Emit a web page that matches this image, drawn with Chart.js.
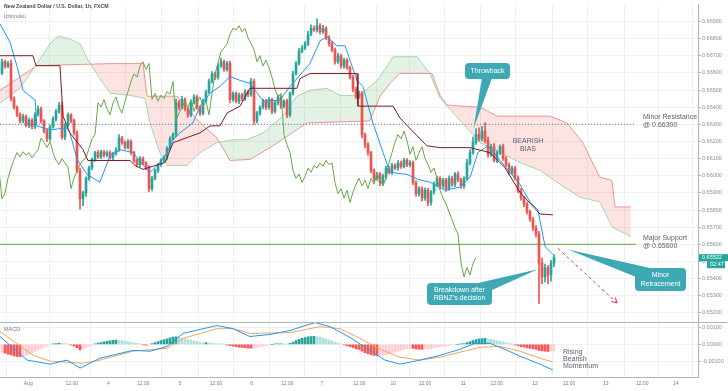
<!DOCTYPE html>
<html>
<head>
<meta charset="utf-8">
<script src="https://cdn.jsdelivr.net/npm/chart.js@4.4.1/dist/chart.umd.min.js"></script>
<style>
  html, body { margin: 0; padding: 0; background: #fff; }
  #wrap { width: 728px; height: 391px; }
</style>
</head>
<body>
<div id="wrap"><canvas id="chart" width="728" height="391"></canvas></div>
<script>
// hourly NZD/USD, prices in 1e-5 units (66665 = 0.66665)
var closes = [
  66665,66640,66655,66450,66400,66355,66320,66345,66295,66325,
  66285,66355,66390,66320,66260,66215,66285,66330,66375,66410,
  66225,66295,66355,66320,66250,66030,65865,65900,65985,66045,
  66095,66135,66110,66140,66120,66135,66105,66130,66150,66220,
  66195,66165,66200,66135,66090,66065,66100,66075,66050,65925,
  65985,66030,66065,66090,66105,66160,66215,66240,66425,66400,
  66445,66390,66355,66425,66460,66400,66365,66435,66490,66550,
  66595,66575,66640,66665,66620,66655,66445,66480,66435,66470,
  66450,66490,66475,66550,66320,66365,66400,66435,66400,66445,
  66375,66425,66460,66405,66435,66355,66480,66595,66655,66725,
  66745,66770,66825,66860,66850,66875,66840,66860,66805,66770,
  66735,66665,66700,66640,66675,66630,66575,66505,66460,66480,
  66240,66180,66135,66030,65985,66010,65960,65995,66045,66020,
  66060,66045,66075,66055,66090,66065,66075,65960,65895,65925,
  65870,65915,65845,65905,65950,65985,65940,65975,65925,65985,
  65950,66010,65975,65940,65985,66075,66135,66195,66240,66215,
  66260,66205,66125,66170,66090,66135,66170,66100,66065,66020,
  66045,65985,65915,65870,65835,65790,65745,65695,65660,65490,
  65410,65465,65420,65490,65522
];
var firstOpen = 66600;
// wick length above / below the body, same units
var wickHi = [
  15,10,12,20,10,8,12,14,10,12, 8,14,18,10,8,12,10,14,12,18,
  20,10,12,8,10,12,14,10,8,12, 10,8,12,10,8,12,10,8,14,20,
  10,8,12,10,8,10,12,10,8,10, 12,10,8,10,12,10,14,10,20,15,
  18,10,8,12,14,10,8,12,10,14, 12,10,14,20,10,12,14,10,8,12,
  10,12,8,18,14,10,8,12,10,12, 8,10,12,10,8,12,10,14,12,16,
  14,12,18,20,14,40,12,18,10,12, 14,10,16,10,12,8,10,12,10,14,
  12,10,14,8,10,12,10,14,12,10, 12,10,14,10,12,10,14,12,10,12,
  10,14,12,10,14,12,10,12,10,14, 12,10,14,12,10,20,18,30,35,40,
  28,50,20,14,18,12,10,14,12,10, 12,10,14,12,10,12,10,12,14,16,
  30,20,12,16,18
];
var wickLo = [
  10,12,10,14,12,10,14,12,10,14, 12,10,8,14,12,16,10,8,12,10,
  12,14,10,12,14,12,60,40,20,12, 10,12,8,10,12,10,8,12,10,8,
  12,10,8,14,12,10,12,10,14,20, 14,10,12,10,8,12,10,8,12,14,
  10,12,14,10,8,12,14,10,8,12, 10,14,12,8,12,10,20,12,10,14,
  12,10,14,12,20,14,12,10,14,12, 14,10,12,14,10,16,12,10,8,10,
  8,10,12,10,8,12,14,10,12,14, 12,14,10,12,14,10,12,14,12,10,
  20,18,16,14,20,12,18,14,12,10, 12,10,14,12,10,12,14,12,16,14,
  18,14,20,16,12,14,18,12,16,10, 12,14,10,12,14,10,12,10,12,14,
  12,14,16,12,10,14,12,10,12,14, 12,10,14,12,16,14,12,16,18,235,
  40,30,50,35,20
];

// ichimoku lines: x in bars, values in 1e-5 units
var tenkanX = [0,3.3,5.7,7.7,11.7,12.3,16.7,22.3,23.3,25.7,29,33.3,36.7,40,44.3,47.7,50,53.3,55.7,57.7,60,64.3,66.7,70,73.3,76.7,80,83.3,87.7,93.3,96.7,103.3,106.7,109,112.3,115,119,121,124.3,127.7,130,135.7,139.3,143.3,148.3,153.3,156.7,159.3,162.7,166.7,170,173.3,176.7,179.3,181.7,184.3];
var tenkanY = [66885,66781,66637,66498,66441,66291,66268,66279,66250,66095,66008,65962,66118,66152,66135,66060,66020,66077,66135,66210,66250,66308,66406,66481,66521,66579,66556,66539,66435,66441,66521,66654,66787,66810,66758,66758,66556,66521,66308,66135,66020,66008,65979,65962,65916,65933,65991,66135,66175,66089,66020,65950,65847,65800,65587,65541];
var kijunX = [0,11,12,20,21,23.3,27.7,29.3,43.3,45,47.7,51.7,55,57.7,66.7,70,73.3,75.7,80,83.3,99,100,103.3,119,119.3,131,133.3,139,142.3,146.7,156.7,163.3,168.3,173.3,180,184.3];
var kijunY = [66700,66700,66642,66642,66348,66250,66152,66089,66089,66060,66037,66060,66077,66193,66250,66291,66291,66366,66406,66510,66510,66567,66596,66596,66406,66406,66337,66233,66175,66164,66164,66135,66048,65904,65777,65772];
var spanAX = [0,6.7,12.3,16.7,19.3,23.3,26.7,29,33.3,36.7,43.3,48.3,50,53.3,55.7,62.3,66.7,72.3,77.7,82.3,87.7,94.3,99,103.3,109,113.3,120,125.7,129,131,139,143.3,146.7,153.3,160,166.7,173.3,180,186.7,193.3,200,204,210.3];
var spanAY = [66423,66510,66654,66769,66815,66798,66769,66683,66567,66481,66469,66452,66308,66135,66060,66060,66135,66193,66210,66210,66250,66348,66464,66498,66510,66469,66469,66556,66637,66694,66694,66596,66452,66325,66193,66135,66077,66031,65950,65875,65847,65702,65645];
var spanBX = [0,12.3,36.7,47.7,49,59,66.7,72.3,76.7,83.3,91,102.3,123.3,124.3,126.7,130,133.3,144,146.7,149,160,165.7,183.3,189,194.3,196.7,200,204,205,210.3];
var spanBY = [66498,66642,66654,66654,66464,66464,66308,66221,66089,66095,66175,66308,66320,66366,66464,66539,66596,66596,66469,66412,66400,66348,66348,66308,66193,66106,65991,65973,65818,65818];

var levelPrices = [0.66300, 0.65600];
var levelEndBar = 212;
var arrowX = [186, 205.7];
var arrowY = [65576, 65258];

// MACD panel, 1e-5 units
var histo = [
  -45,-52,-58,-62,-68,-70,-72,-70,
  -64,-58,-50,-42,-34,-26,-18,-11,-5,
  3,5,7,6,4, 2,-2, -10,-20,-33, -28,-20,-12,
  -4,3,7,11,15,18,21,23,25, 24,22,19,16,12,9,6,3, -2,-5,-4,
  4,10,16,22,28,33,38,42,44, 41,37,33,28,24,20,16,12,9, 11,
  9,7,5,4,2,1, -3,-7,-10,-13,-16,-18,-20,-22,-23,
  -22,-18,-14,-10,-6,-3,0, 2,3,3,2,1,
  6,14,22,30,36,40,44,46,47, 45,42,38,33,27,20, 13,7,2,-3,-8,
  -14,-20,-26,-30,-40,-48,-54,-60,-64,-66,-66,
  -64,-60,-55,-50,-45,-40,-35,-30,-26,-22,
  -24,-27,-28,-29,-28,-28,
  -25,-21,-17,-14,-11,-9,-6,-4,-2,0,2,4,
  10,16,22,28,32,34,35, 32,29,26,22,18,14,10,6,2,
  -3,-8,-13,-17,-21,-24,-27,-30,-35,-38,-40,-41,-40,-38
];
var macdX = [0,9,11,16.7,22.3,26.7,33.3,44.3,50,55.7,61,72.3,77.7,83.3,90,96.7,101.7,105,110,116.7,123.3,128.3,133.3,140,146.7,153.3,158.3,163.3,168.3,173.3,180,184.3];
var macdY = [46,-92,-98,-116,-92,-139,-81,-35,-40,-12,64,110,92,46,58,81,110,127,104,40,-35,-92,-116,-92,-64,-29,6,6,-29,-69,-116,-150];
var signalX = [0,11,16.7,27.7,33.3,44.3,55.7,61,72.3,77.7,83.3,96.7,106.7,113.3,120,126.7,133.3,140,146.7,153.3,160,166.7,173.3,180,184.3];
var signalY = [75,-64,-98,-110,-92,-40,-23,35,92,92,64,69,104,92,35,-29,-75,-92,-75,-46,-17,-12,-40,-81,-104];

var xTickPos = [9.43,23.9,36.1,47.77,60,72,83.9,95.77,107.23,119.77,131.1,141.67,154.43,165.57,178.33,189.67,201.9,214.1,225.23];
var xTickText = ['Aug','12:00','4','12:00','5','12:00','6','12:00','7','12:00','10','12:00','11','12:00','12','12:00','13','12:00','14'];
var priceTicks = [0.652,0.653,0.654,0.655,0.656,0.657,0.658,0.659,0.660,0.661,0.662,0.663,0.664,0.665,0.666,0.667,0.668,0.669];
var macdTicks = [-0.001, 0, 0.001];
var lastPrice = 0.65522;
var lastTime = '02:47';

var UP = '#26a69a', DOWN = '#ef5350', TEAL = '#3fa8b5';
var FONT = '"Liberation Sans", Arial, sans-serif';

function pts(xs, ys) {
  return xs.map(function (x, i) { return { x: x, y: ys[i] / 1e5 }; });
}
var opens = closes.map(function (c, i) { return i === 0 ? firstOpen : closes[i - 1]; });
var bodies = closes.map(function (c, i) { return { x: i + 0.67, y: [opens[i] / 1e5, c / 1e5] }; });
var wicks = closes.map(function (c, i) {
  return { x: i + 0.67, y: [(Math.min(opens[i], c) - wickLo[i]) / 1e5, (Math.max(opens[i], c) + wickHi[i]) / 1e5] };
});
var candleColor = closes.map(function (c, i) { return c >= opens[i] ? UP : DOWN; });
var lagging = closes.map(function (c, i) { return { x: i + 0.67 - 26, y: c / 1e5 }; });
var histColor = histo.map(function (v, i) {
  var p = i > 0 ? histo[i - 1] : v;
  if (v >= 0) return v >= p ? '#26a69a' : '#b2dfdb';
  return v < p ? '#ff5252' : '#ffcdd2';
});

function line(data, color, order, extra) {
  var d = { type: 'line', data: data, borderColor: color, borderWidth: 1, pointRadius: 0,
            tension: 0, fill: false, order: order, yAxisID: 'y' };
  for (var k in extra) d[k] = extra[k];
  return d;
}

function roundRect(ctx, x, y, w, h, r) {
  ctx.beginPath();
  ctx.moveTo(x + r, y);
  ctx.arcTo(x + w, y, x + w, y + h, r);
  ctx.arcTo(x + w, y + h, x, y + h, r);
  ctx.arcTo(x, y + h, x, y, r);
  ctx.arcTo(x, y, x + w, y, r);
  ctx.closePath();
}

function callout(ctx, box, b1, b2, tip, lines) {
  ctx.fillStyle = TEAL;
  ctx.beginPath();
  ctx.moveTo(b1[0], b1[1]); ctx.lineTo(tip[0], tip[1]); ctx.lineTo(b2[0], b2[1]);
  ctx.closePath(); ctx.fill();
  roundRect(ctx, box[0], box[1], box[2], box[3], 4);
  ctx.fill();
  ctx.fillStyle = '#ffffff';
  ctx.font = '7px ' + FONT;
  ctx.textAlign = 'center';
  ctx.textBaseline = 'middle';
  var lh = 8.5, cy = box[1] + box[3] / 2 - (lines.length - 1) * lh / 2;
  lines.forEach(function (t, k) { ctx.fillText(t, box[0] + box[2] / 2, cy + k * lh); });
}

var notes = {
  id: 'notes',
  afterDatasetsDraw: function (chart) {
    var ctx = chart.ctx, xs = chart.scales.x, ys = chart.scales.y;
    ctx.save();
    // arrow head of the projected move
    var ax = xs.getPixelForValue(arrowX[1]), ay = ys.getPixelForValue(arrowY[1] / 1e5);
    var bx = xs.getPixelForValue(arrowX[0]), by = ys.getPixelForValue(arrowY[0] / 1e5);
    var ang = Math.atan2(ay - by, ax - bx);
    ctx.strokeStyle = '#f23645'; ctx.lineWidth = 1;
    ctx.beginPath();
    ctx.moveTo(ax - 6 * Math.cos(ang - 0.5), ay - 6 * Math.sin(ang - 0.5));
    ctx.lineTo(ax, ay);
    ctx.lineTo(ax - 6 * Math.cos(ang + 0.5), ay - 6 * Math.sin(ang + 0.5));
    ctx.stroke();

    callout(ctx, [465, 63, 45, 16], [482, 78], [492, 78],
      [xs.getPixelForValue(157.8), ys.getPixelForValue(0.66273)], ['Throwback']);
    callout(ctx, [427, 283, 65, 22], [478, 283], [492, 290],
      [xs.getPixelForValue(179.3), ys.getPixelForValue(0.65454)], ['Breakdown after', 'RBNZ\u2019s decision']);
    callout(ctx, [635, 268, 51, 23], [636, 277], [650, 268],
      [xs.getPixelForValue(189.3), ys.getPixelForValue(0.6557)], ['Minor', 'Retracement']);

    ctx.fillStyle = '#5d606b';
    ctx.font = '7px ' + FONT;
    ctx.textAlign = 'center'; ctx.textBaseline = 'middle';
    ctx.fillText('BEARISH', 528, 141);
    ctx.fillText('BIAS', 528, 149);
    ctx.textAlign = 'left';
    ctx.fillText('Minor Resistance', 643, 117.5);
    ctx.fillText('@ 0.66300', 643, 125.5);
    ctx.fillText('Major Support', 643, 238);
    ctx.fillText('@ 0.65600', 643, 246);
    ctx.fillText('Rising', 563, 352);
    ctx.fillText('Bearish', 563, 359);
    ctx.fillText('Momentum', 563, 366);

    ctx.fillStyle = '#4a4a4a';
    ctx.font = 'bold 5.2px ' + FONT;
    ctx.fillText('New Zealand Dollar / U.S. Dollar, 1h, FXCM', 4, 7);
    ctx.fillStyle = '#787b86';
    ctx.font = '5.5px ' + FONT;
    ctx.fillText('Ichimoku', 4, 16);
    ctx.fillText('MACD', 4, 329);
    ctx.restore();
  },
  afterDraw: function (chart) {
    var ctx = chart.ctx, ys = chart.scales.y, m = chart.scales.m;
    ctx.save();
    // panel separator
    ctx.strokeStyle = '#b2b5be'; ctx.lineWidth = 1;
    ctx.beginPath(); ctx.moveTo(0, Math.round(m.top) + 0.5); ctx.lineTo(728, Math.round(m.top) + 0.5); ctx.stroke();
    // last price tag
    var py = ys.getPixelForValue(lastPrice);
    ctx.fillStyle = UP;
    ctx.fillRect(699, py - 3.5, 29, 7);
    ctx.fillRect(707, py + 3.5, 18, 7);
    ctx.fillStyle = '#ffffff';
    ctx.font = '5.5px ' + FONT;
    ctx.textAlign = 'left'; ctx.textBaseline = 'middle';
    ctx.fillText(lastPrice.toFixed(5), 702, py);
    ctx.fillText(lastTime, 710, py + 7);
    ctx.restore();
  }
};

var levelData = levelPrices.map(function (p) { return [{ x: 0, y: p }, { x: levelEndBar, y: p }]; });

new Chart(document.getElementById('chart'), {
  type: 'bar',
  data: {
    datasets: [
      line(pts(spanAX, spanAY), '#a5d6a7', 9, { fill: { target: 1, above: 'rgba(67,160,71,0.14)', below: 'rgba(244,67,54,0.14)' } }),
      line(pts(spanBX, spanBY), '#ef9a9a', 9, {}),
      { type: 'bar', data: wicks, backgroundColor: candleColor, barThickness: 1, grouped: false, order: 4, yAxisID: 'y' },
      { type: 'bar', data: bodies, backgroundColor: candleColor, barThickness: 2, minBarLength: 1, grouped: false, order: 4, yAxisID: 'y' },
      line(lagging, '#66a84a', 3, {}),
      line(pts(kijunX, kijunY), '#801922', 2, {}),
      line(pts(tenkanX, tenkanY), '#2196f3', 2, {}),
      line(levelData[0], '#787b86', 1, { borderDash: [1, 2] }),
      line(levelData[1], '#6a9f3f', 1, {}),
      line(pts(arrowX, arrowY), '#f23645', 1, { borderDash: [3, 3] }),
      { type: 'bar', data: histo.map(function (v, i) { return { x: i + 0.67, y: v / 1e5 }; }),
        backgroundColor: histColor, barThickness: 2, grouped: false, order: 4, yAxisID: 'm' },
      line(pts(macdX, macdY), '#2196f3', 2, { yAxisID: 'm' }),
      line(pts(signalX, signalY), '#f7a35c', 2, { yAxisID: 'm' })
    ]
  },
  options: {
    responsive: false,
    devicePixelRatio: 1,
    animation: false,
    layout: { padding: 0 },
    plugins: { legend: { display: false }, tooltip: { enabled: false } },
    scales: {
      x: {
        type: 'linear', min: 0, max: 698 / 3, offset: false,
        afterBuildTicks: function (s) { s.ticks = xTickPos.map(function (v) { return { value: v }; }); },
        afterFit: function (s) { s.height = 14; },
        ticks: {
          autoSkip: false, maxRotation: 0, padding: 4, color: '#787b86',
          font: { family: FONT, size: 5 },
          callback: function (v) { var k = xTickPos.indexOf(v); return k >= 0 ? xTickText[k] : ''; }
        },
        grid: { color: '#eef0f4', drawTicks: false },
        border: { display: true, color: '#b2b5be' }
      },
      y: {
        type: 'linear', position: 'right', stack: 'panes', stackWeight: 321,
        min: 0.65149, max: 0.67,
        afterBuildTicks: function (s) { s.ticks = priceTicks.map(function (v) { return { value: v }; }); },
        afterFit: function (s) { s.width = 30; },
        ticks: { padding: 1, color: '#8a8d96', font: { family: FONT, size: 5.5 },
                 callback: function (v) { return v.toFixed(5); } },
        grid: { color: '#eef0f4', tickLength: 3, tickColor: '#b2b5be' },
        border: { color: '#b2b5be' }
      },
      m: {
        type: 'linear', position: 'right', stack: 'panes', stackWeight: 56,
        min: -0.00191, max: 0.00133,
        afterBuildTicks: function (s) { s.ticks = macdTicks.map(function (v) { return { value: v }; }); },
        afterFit: function (s) { s.width = 30; },
        ticks: { padding: 1, color: '#8a8d96', font: { family: FONT, size: 5.5 },
                 callback: function (v) { return v.toFixed(5); } },
        grid: { color: '#eef0f4', tickLength: 3, tickColor: '#b2b5be' },
        border: { color: '#b2b5be' }
      }
    }
  },
  plugins: [notes]
});
</script>
</body>
</html>
